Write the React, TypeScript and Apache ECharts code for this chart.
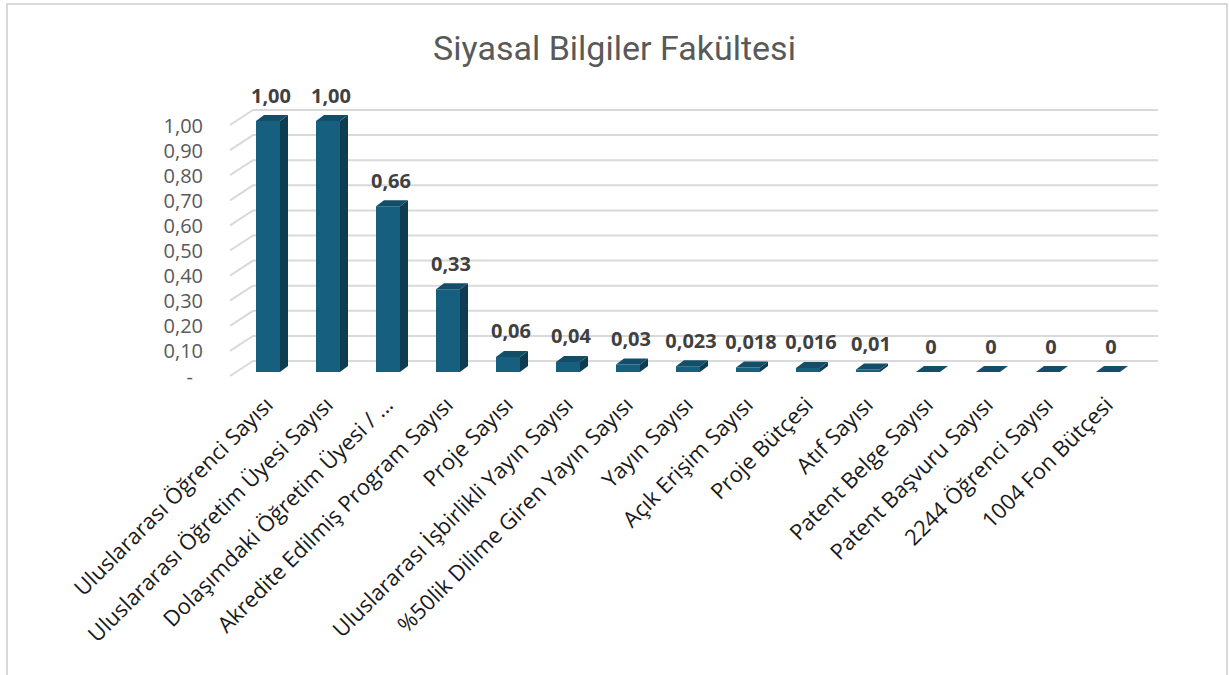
import React, { useEffect, useRef } from "react";
import * as echarts from "echarts";

const categories = [
  "Uluslararası Öğrenci Sayısı",
  "Uluslararası Öğretim Üyesi Sayısı",
  "Dolaşımdaki Öğretim Üyesi / ...",
  "Akredite Edilmiş Program Sayısı",
  "Proje Sayısı",
  "Uluslararası İşbirlikli Yayın Sayısı",
  "%50lik Dilime Giren Yayın Sayısı",
  "Yayın Sayısı",
  "Açık Erişim Sayısı",
  "Proje Bütçesi",
  "Atıf Sayısı",
  "Patent Belge Sayısı",
  "Patent Başvuru Sayısı",
  "2244 Öğrenci Sayısı",
  "1004 Fon Bütçesi",
];
const values = [1.0, 1.0, 0.66, 0.33, 0.06, 0.04, 0.03, 0.023, 0.018, 0.016, 0.01, 0, 0, 0, 0];
const valueLabels = ["1,00", "1,00", "0,66", "0,33", "0,06", "0,04", "0,03", "0,023", "0,018", "0,016", "0,01", "0", "0", "0", "0"];
const yTicks = [0, 0.1, 0.2, 0.3, 0.4, 0.5, 0.6, 0.7, 0.8, 0.9, 1.0];
const title = "Siyasal Bilgiler Fakültesi";

export default function App() {
  const ref = useRef<HTMLDivElement>(null);
  useEffect(() => {
    document.body.style.margin = "0";
    const chart = echarts.init(ref.current!, null, { renderer: "svg" });
    const GRID_LEFT = 238;
    const GRID_RIGHT = 91;
    const GRID_TOP = 125;
    const GRID_BOTTOM = 299;
    const option: any = {
      animation: false,
      backgroundColor: "#ffffff",
      title: {
        text: title,
        left: "center",
        top: 26,
        textStyle: {
          fontFamily: "Roboto",
          fontSize: 34,
          fontWeight: "normal",
          color: "#595959",
        },
      },
      graphic: [
        {
          type: "rect",
          shape: { x: 7, y: 4, width: 1220, height: 700 },
          style: { fill: "none", stroke: "#d9d9d9", lineWidth: 2 },
          silent: true,
          z: -10,
        },
      ],
      grid: { left: GRID_LEFT, right: GRID_RIGHT, top: GRID_TOP, bottom: GRID_BOTTOM },
      xAxis: {
        type: "category",
        data: categories,
        axisLine: { show: false },
        axisTick: { show: false },
        axisLabel: {
          interval: 0,
          rotate: 45,
          margin: 24,
          fontFamily: "Open Sans",
          fontSize: 22,
          color: "#1a1a1a",
        },
      },
      yAxis: {
        type: "value",
        min: 0,
        max: 1,
        interval: 0.1,
        axisLine: { show: false },
        axisTick: { show: false },
        splitLine: { show: false },
        axisLabel: {
          margin: 35,
          fontFamily: "Open Sans",
          fontSize: 20,
          lineHeight: 22,
          color: "#595959",
          formatter: (v: number) => (v === 0 ? "{d|-}" : v.toFixed(2).replace(".", ",")),
          rich: {
            d: { fontFamily: "Open Sans", fontSize: 20, lineHeight: 22, color: "#595959", padding: [0, 10, 0, 0] },
          },
        },
      },
      series: [
        {
          type: "custom",
          z: 1,
          silent: true,
          data: yTicks.map((t) => [0, t]),
          renderItem: (params: any, api: any) => {
            const cs = params.coordSys;
            const y = api.coord([0, api.value(1)])[1];
            return {
              type: "polyline",
              shape: {
                points: [
                  [cs.x - 8, y],
                  [cs.x + 15, y - 15],
                  [cs.x + cs.width + 20, y - 15],
                ],
              },
              style: { fill: "none", stroke: "#d9d9d9", lineWidth: 2 },
            };
          },
        },
        {
          type: "custom",
          z: 2,
          data: values.map((v, i) => [i, v]),
          renderItem: (params: any, api: any) => {
            const i = api.value(0);
            const v = api.value(1);
            const p0 = api.coord([i, 0]);
            const p1 = api.coord([i, v]);
            const cx = p0[0];
            const yb = p0[1] - 4;
            const yt = p1[1] - 4;
            const hw = 12;
            const dx = 8;
            const dy = 6;
            return {
              type: "group",
              children: [
                {
                  type: "rect",
                  shape: { x: cx - hw, y: yt, width: hw * 2, height: Math.max(yb - yt, 0) },
                  style: { fill: "#165f7e" },
                },
                {
                  type: "polygon",
                  shape: {
                    points: [
                      [cx + hw, yt],
                      [cx + hw + dx, yt - dy],
                      [cx + hw + dx, yb - dy],
                      [cx + hw, yb],
                    ],
                  },
                  style: { fill: "#0e3c50" },
                },
                {
                  type: "polygon",
                  shape: {
                    points: [
                      [cx - hw, yt],
                      [cx - hw + dx, yt - dy],
                      [cx + hw + dx, yt - dy],
                      [cx + hw, yt],
                    ],
                  },
                  style: { fill: "#124e68" },
                },
                {
                  type: "text",
                  style: {
                    text: valueLabels[i],
                    x: cx + 3,
                    y: yt - dy - 20,
                    align: "center",
                    verticalAlign: "middle",
                    fontFamily: "Open Sans",
                    fontWeight: "bold",
                    fontSize: 20,
                    fill: "#404040",
                  },
                },
              ],
            };
          },
        },
      ],
    };
    chart.setOption(option);
    return () => chart.dispose();
  }, []);
  return <div ref={ref} style={{ width: 1229, height: 675 }} />;
}
